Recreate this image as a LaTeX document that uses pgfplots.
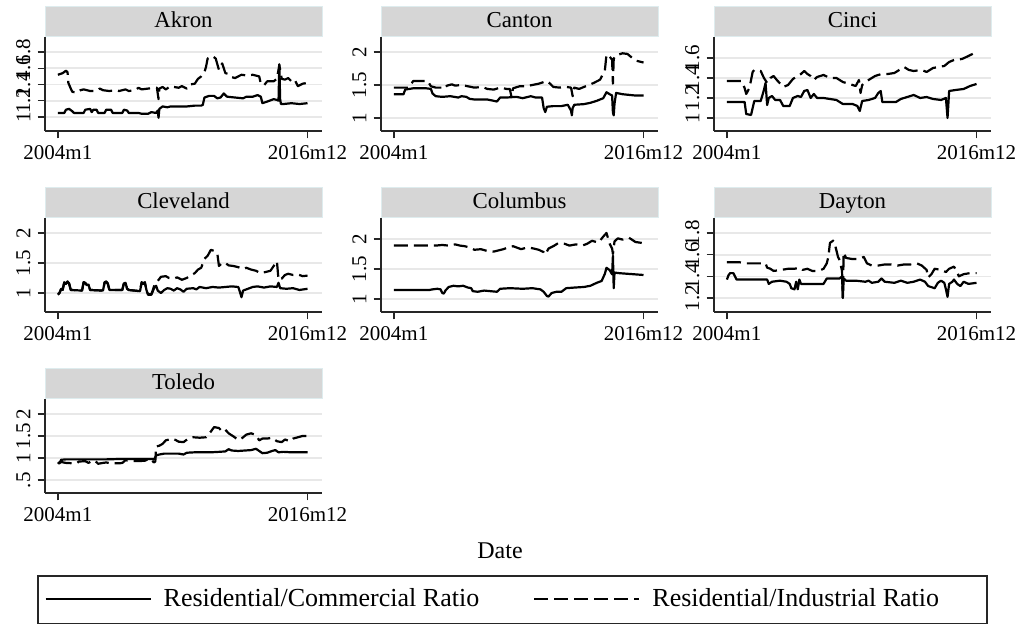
\documentclass[border=0pt]{standalone}
\usepackage{fontspec}
\setmainfont{Liberation Serif}
\usepackage{pgfplots}
\pgfplotsset{compat=1.18}
\definecolor{gridgray}{RGB}{232,232,232}
\definecolor{headgray}{RGB}{214,214,214}
\definecolor{headedge}{RGB}{222,236,238}
\newcommand{\ticksize}{\fontsize{10.5}{12}\selectfont}
\newcommand{\titlesize}{\fontsize{11.4}{13}\selectfont}
\pgfplotsset{
  panel/.style={
    scale only axis, width=138.5pt, height=47pt,
    xmin=-8, xmax=164,
    axis lines=left, axis line style={-, line width=0.7pt, color=black!85},
    xtick={0,155}, xticklabels={2004m1,2016m12},
    tick align=outside, major tick length=3.75pt,
    every tick/.style={line width=0.7pt, color=black!85},
    ymajorgrids, grid style={line width=0.8pt, color=gridgray},
    xticklabel style={font=\ticksize},
    yticklabel style={font=\ticksize, rotate=90, anchor=south},
    every axis title shift=0pt,
    title style={at={(axis description cs:0.5,1)}, anchor=south, fill=headgray, draw=headedge, line width=0.5pt, minimum width=138.5pt, minimum height=15pt, inner sep=0pt, text height=8pt, text depth=2.2pt, font=\titlesize},
    clip=false,
  },
  resline/.style={black, solid, mark=none, line width=1.1pt, line join=round},
  dashline/.style={black, mark=none, line width=1.1pt, line join=round, dash pattern=on 7pt off 3pt},
}
\begin{document}
\begin{tikzpicture}
\useasboundingbox (0,0) rectangle (510pt,312.5pt);
% Akron
\begin{axis}[panel, at={(22.5pt,247pt)}, title={Akron}, ymin=0.828, ymax=1.985,
  ytick={1,1.2,1.4,1.6,1.8}, yticklabels={1,1.2,1.4,1.6,1.8}]
\addplot[resline] coordinates {(0,1.05)(4,1.05)(5,1.09)(7,1.10)(9,1.07)(10,1.05)(16,1.05)(17,1.09)(20,1.10)(21,1.06)(22,1.09)(24,1.09)(25,1.05)(29,1.05)(30,1.09)(33,1.09)(34,1.05)(40,1.05)(41,1.09)(43,1.08)(44,1.05)(50,1.05)(52,1.04)(56,1.04)(58,1.06)(61,1.05)(62,1.08)(62.5,0.99)(63,1.10)(65,1.13)(68,1.12)(70,1.13)(80,1.13)(85,1.14)(89,1.14)(90,1.15)(91,1.24)(94,1.26)(97,1.26)(99,1.23)(101,1.24)(103,1.29)(105,1.25)(110,1.24)(115,1.23)(117,1.25)(121,1.25)(124,1.27)(126,1.25)(127,1.17)(130,1.19)(134,1.22)(136,1.21)(137,1.2)(137.5,1.65)(138,1.22)(138.5,1.16)(140,1.16)(145,1.17)(150,1.16)(155,1.17)};
\addplot[dashline] coordinates {(0,1.52)(3,1.54)(5,1.57)(6,1.55)(6.5,1.42)(8,1.35)(9,1.31)(12,1.30)(14,1.33)(16,1.34)(20,1.32)(24,1.32)(26,1.35)(28,1.33)(32,1.32)(36,1.33)(38,1.32)(42,1.34)(44,1.32)(48,1.33)(50,1.36)(52,1.34)(56,1.35)(60,1.36)(61.5,1.36)(62.5,1.22)(63,1.35)(65,1.37)(67,1.34)(70,1.38)(72,1.37)(75,1.36)(77,1.38)(80,1.35)(82,1.40)(85,1.41)(87,1.47)(89,1.50)(91,1.55)(92,1.62)(93,1.72)(96,1.75)(98,1.72)(100,1.58)(102,1.66)(104,1.54)(106,1.53)(108,1.49)(110,1.48)(114,1.52)(118,1.51)(121,1.52)(125,1.50)(126,1.41)(128,1.39)(130,1.44)(134,1.44)(136,1.47)(137.5,1.64)(139,1.47)(141,1.46)(143,1.48)(145,1.44)(147,1.46)(149,1.38)(152,1.41)(155,1.42)};
\end{axis}
% Canton
\begin{axis}[panel, at={(190.5pt,247pt)}, title={Canton}, ymin=0.803, ymax=2.227,
  ytick={1,1.5,2}, yticklabels={1,1.5,2}]
\addplot[resline] coordinates {(0,1.36)(6,1.36)(7,1.43)(12,1.45)(20,1.45)(23,1.44)(24,1.37)(26,1.33)(30,1.32)(35,1.33)(40,1.31)(42,1.33)(45,1.32)(47,1.29)(50,1.28)(58,1.28)(62,1.26)(64,1.25)(66,1.31)(70,1.31)(76,1.32)(80,1.30)(85,1.33)(88,1.31)(92,1.31)(93,1.15)(94,1.09)(95,1.17)(99,1.18)(104,1.18)(108,1.20)(110,1.11)(110.5,1.04)(111,1.15)(112,1.20)(118,1.21)(122,1.23)(126,1.26)(130,1.30)(132,1.39)(134,1.36)(135.5,1.34)(136,1.08)(136.5,1.04)(137,1.22)(138,1.38)(142,1.36)(146,1.35)(150,1.34)(155,1.34)};
\addplot[dashline] coordinates {(0,1.46)(9,1.46)(10,1.49)(12,1.56)(21,1.56)(23,1.48)(26,1.46)(30,1.46)(31,1.44)(33,1.49)(36,1.51)(38,1.49)(42,1.50)(46,1.48)(50,1.46)(55,1.47)(58,1.44)(62,1.43)(66,1.46)(70,1.44)(72,1.44)(73,1.32)(74,1.45)(78,1.48)(82,1.48)(86,1.50)(90,1.52)(95,1.56)(97,1.52)(99,1.47)(103,1.46)(107,1.47)(110,1.46)(111,1.33)(112,1.46)(115,1.44)(119,1.48)(124,1.53)(128,1.58)(131,1.72)(132,1.96)(134,1.93)(135.5,1.88)(136,1.52)(136.5,1.90)(138,1.95)(142,1.98)(145,1.97)(148,1.91)(150,1.87)(155,1.84)};
\end{axis}
% Cinci
\begin{axis}[panel, at={(357pt,247pt)}, title={Cinci}, ymin=0.87, ymax=1.81,
  ytick={1,1.2,1.4,1.6}, yticklabels={1,1.2,1.4,1.6}]
\addplot[resline] coordinates {(0,1.16)(11,1.16)(12,1.04)(15,1.03)(16,1.10)(17,1.17)(21,1.17)(23,1.28)(24,1.35)(25,1.13)(26,1.20)(28,1.22)(30,1.18)(33,1.18)(35,1.12)(39,1.12)(41,1.20)(44,1.22)(46,1.21)(48,1.27)(50,1.28)(52,1.20)(54,1.24)(56,1.20)(60,1.20)(64,1.19)(68,1.18)(72,1.14)(78,1.14)(81,1.12)(82.5,1.07)(84,1.17)(88,1.18)(92,1.20)(94,1.25)(95.5,1.27)(96.5,1.16)(100,1.16)(105,1.16)(108,1.19)(112,1.21)(116,1.23)(120,1.20)(124,1.21)(128,1.19)(133,1.18)(136,1.20)(137,1.0)(138,1.27)(142,1.28)(147,1.29)(151,1.32)(155,1.34)};
\addplot[dashline] coordinates {(0,1.37)(9,1.37)(11,1.30)(12,1.24)(14,1.30)(16,1.46)(17,1.48)(21,1.47)(23,1.40)(25,1.35)(27,1.40)(29,1.42)(31,1.38)(35,1.31)(38,1.33)(41,1.39)(43,1.41)(46,1.44)(48,1.47)(50,1.44)(52,1.42)(54,1.38)(56,1.41)(60,1.43)(64,1.40)(68,1.40)(72,1.36)(76,1.34)(80,1.32)(82,1.38)(83,1.25)(84,1.33)(88,1.38)(92,1.42)(96,1.44)(100,1.44)(104,1.45)(110,1.51)(113,1.48)(116,1.47)(121,1.48)(124,1.46)(128,1.50)(135,1.52)(138,1.56)(141,1.58)(146,1.59)(150,1.62)(155,1.66)};
\end{axis}
% Cleveland
\begin{axis}[panel, at={(22.5pt,156.5pt)}, title={Cleveland}, ymin=0.683, ymax=2.25,
  ytick={1,1.5,2}, yticklabels={1,1.5,2}]
\addplot[resline] coordinates {(0,0.97)(1,1.0)(2,1.06)(3,1.05)(4,1.18)(5,1.15)(6,1.19)(7,1.15)(8,1.05)(15,1.04)(16,1.18)(17,1.16)(18,1.13)(19,1.14)(20,1.05)(28,1.04)(29,1.17)(30,1.19)(31,1.15)(32,1.05)(40,1.05)(41,1.16)(42,1.17)(43,1.07)(44,1.05)(51,1.03)(52,1.17)(53,1.15)(54,1.17)(55,1.05)(56,0.97)(58,0.97)(59,1.03)(60,1.10)(61,1.12)(62,1.04)(64,1.00)(66,1.05)(68,1.08)(70,1.07)(72,1.04)(74,1.08)(76,1.06)(78,1.02)(80,1.07)(84,1.08)(86,1.06)(88,1.10)(92,1.08)(96,1.10)(100,1.09)(104,1.10)(108,1.11)(112,1.10)(113,1.02)(114,0.93)(115,1.04)(118,1.07)(121,1.10)(124,1.11)(128,1.09)(132,1.11)(136,1.10)(137,1.17)(138,1.08)(142,1.07)(146,1.08)(150,1.05)(155,1.07)};
\addplot[dashline] coordinates {(0,0.98)(1,1.0)(2,1.07)(3,1.06)(4,1.19)(5,1.16)(6,1.19)(7,1.16)(8,1.05)(15,1.04)(16,1.18)(17,1.17)(18,1.14)(19,1.15)(20,1.05)(28,1.04)(29,1.18)(30,1.19)(31,1.16)(32,1.05)(40,1.05)(41,1.17)(42,1.17)(43,1.07)(44,1.05)(51,1.03)(52,1.18)(53,1.16)(54,1.18)(55,1.05)(56,0.98)(58,0.98)(59,1.05)(60,1.14)(62,1.20)(64,1.27)(67,1.28)(69,1.25)(72,1.24)(74,1.26)(77,1.22)(80,1.25)(83,1.30)(85,1.33)(87,1.39)(89,1.42)(91,1.57)(93,1.62)(95,1.72)(97,1.70)(99,1.66)(100,1.45)(102,1.50)(104,1.50)(106,1.46)(109,1.45)(112,1.43)(115,1.40)(117,1.42)(120,1.39)(123,1.37)(126,1.33)(129,1.35)(132,1.37)(134,1.45)(136,1.53)(137,1.22)(139,1.24)(141,1.30)(143,1.32)(146,1.30)(149,1.31)(152,1.28)(155,1.29)};
\end{axis}
% Columbus
\begin{axis}[panel, at={(190.5pt,156.5pt)}, title={Columbus}, ymin=0.783, ymax=2.35,
  ytick={1,1.5,2}, yticklabels={1,1.5,2}]
\addplot[resline] coordinates {(0,1.15)(22,1.15)(24,1.16)(27,1.17)(29,1.16)(30,1.10)(31,1.09)(32,1.14)(34,1.20)(37,1.22)(40,1.21)(43,1.22)(46,1.19)(48,1.18)(49,1.13)(52,1.12)(56,1.14)(60,1.13)(64,1.12)(66,1.17)(72,1.18)(80,1.17)(86,1.18)(91,1.16)(93,1.12)(95,1.05)(96,1.04)(98,1.10)(101,1.12)(104,1.12)(107,1.18)(112,1.19)(118,1.20)(122,1.22)(126,1.27)(129,1.30)(131,1.42)(132,1.52)(134,1.48)(135.5,1.41)(136,1.72)(136.5,1.18)(137,1.44)(140,1.43)(145,1.42)(150,1.41)(155,1.40)};
\addplot[dashline] coordinates {(0,1.89)(20,1.89)(26,1.89)(30,1.90)(34,1.89)(38,1.91)(41,1.89)(44,1.88)(48,1.85)(50,1.82)(54,1.83)(58,1.80)(62,1.79)(65,1.81)(68,1.83)(71,1.86)(74,1.88)(77,1.85)(79,1.83)(83,1.86)(87,1.84)(90,1.82)(93,1.78)(94,1.74)(96,1.84)(99,1.88)(102,1.93)(106,1.92)(109,1.89)(113,1.91)(117,1.89)(120,1.92)(123,1.97)(127,1.94)(130,2.04)(132,2.10)(134,1.92)(135.5,1.84)(136,1.75)(137,1.96)(139,2.01)(142,1.99)(146,2.02)(150,1.95)(155,1.93)};
\end{axis}
% Dayton
\begin{axis}[panel, at={(357pt,156.5pt)}, title={Dayton}, ymin=1.07, ymax=1.94,
  ytick={1.2,1.4,1.6,1.8}, yticklabels={1.2,1.4,1.6,1.8}]
\addplot[resline] coordinates {(0,1.37)(1,1.41)(2,1.43)(4,1.43)(5,1.40)(6,1.37)(25,1.37)(26,1.33)(28,1.35)(33,1.36)(37,1.35)(39,1.33)(40,1.29)(42,1.28)(43,1.35)(44,1.28)(45,1.37)(46,1.33)(50,1.33)(55,1.33)(60,1.33)(62,1.38)(70,1.38)(71.5,1.40)(72,1.20)(72.5,1.38)(74,1.36)(80,1.36)(86,1.35)(88,1.36)(90,1.34)(94,1.35)(96,1.38)(98,1.35)(104,1.34)(108,1.36)(112,1.34)(116,1.35)(120,1.37)(123,1.35)(125,1.31)(127,1.30)(129,1.29)(131,1.34)(133,1.36)(135,1.34)(136,1.28)(137,1.21)(138,1.33)(140,1.35)(141,1.37)(143,1.33)(145,1.31)(147,1.35)(150,1.33)(155,1.34)};
\addplot[dashline] coordinates {(0,1.53)(8,1.53)(12,1.52)(20,1.52)(24,1.52)(25,1.48)(27,1.47)(29,1.45)(34,1.46)(38,1.47)(42,1.47)(45,1.48)(47,1.46)(50,1.47)(53,1.45)(57,1.45)(60,1.47)(62,1.52)(63,1.58)(64,1.71)(66,1.73)(67,1.70)(68,1.64)(69,1.58)(70,1.55)(71.5,1.45)(72,1.20)(72.5,1.62)(74,1.57)(78,1.56)(82,1.56)(85,1.58)(87,1.52)(90,1.50)(94,1.50)(98,1.51)(102,1.51)(106,1.50)(110,1.51)(114,1.51)(118,1.52)(121,1.50)(124,1.46)(125,1.39)(127,1.42)(129,1.47)(133,1.46)(136,1.44)(138,1.47)(141,1.49)(143,1.44)(144,1.40)(147,1.42)(151,1.43)(155,1.43)};
\end{axis}
% Toledo
\begin{axis}[panel, at={(22.5pt,66pt)}, title={Toledo}, ymin=0.209, ymax=2.336,
  ytick={0.5,1,1.5,2}, yticklabels={.5,1,1.5,2},
  legend columns=2,
  legend style={draw=none, fill=none, at={(axis description cs:-0.025,-1.126)}, anchor=west,
    font=\fontsize{13}{15}\selectfont,
    /tikz/every odd column/.style={column sep=4pt},
    /tikz/every even column/.style={column sep=25pt}},
  legend image code/.code={\draw[#1] (0pt,0pt) -- (52.5pt,0pt);}]
\addplot[resline] coordinates {(0,0.90)(1,0.88)(2,0.96)(5,0.97)(10,0.97)(20,0.97)(30,0.97)(40,0.98)(50,0.98)(55,0.98)(60,0.98)(61,1.06)(63,1.08)(66,1.10)(70,1.10)(75,1.10)(78,1.08)(80,1.12)(85,1.13)(90,1.13)(95,1.13)(100,1.14)(104,1.15)(106,1.20)(108,1.17)(112,1.16)(116,1.17)(120,1.18)(123,1.21)(125,1.16)(127,1.11)(130,1.12)(133,1.16)(135,1.18)(137,1.13)(140,1.14)(145,1.13)(150,1.13)(155,1.13)};
\addlegendentry{Residential/Commercial Ratio}
\addplot[dashline] coordinates {(0,0.88)(2,0.91)(5,0.89)(10,0.88)(12,0.89)(13,0.92)(17,0.93)(19,0.89)(21,0.93)(23,0.94)(25,0.87)(28,0.89)(30,0.90)(33,0.88)(38,0.88)(40,0.89)(42,0.95)(46,0.93)(50,0.93)(54,0.94)(56,0.97)(58,0.98)(59.5,0.90)(60.5,0.92)(61,1.26)(63,1.28)(65,1.32)(67,1.40)(71,1.44)(73,1.41)(75,1.37)(78,1.36)(81,1.44)(84,1.47)(88,1.46)(92,1.47)(95,1.60)(97,1.70)(100,1.68)(102,1.60)(104,1.64)(106,1.56)(109,1.49)(112,1.41)(114,1.44)(117,1.53)(120,1.56)(123,1.52)(125,1.40)(127,1.44)(130,1.44)(133,1.46)(136,1.38)(139,1.36)(141,1.42)(144,1.38)(146,1.44)(149,1.47)(152,1.50)(155,1.50)};
\addlegendentry{Residential/Industrial Ratio}
\end{axis}
\node[font=\fontsize{12}{14}\selectfont] at (250pt,37pt) {Date};
\draw[line width=0.7pt, black!85] (19pt,0.6pt) rectangle (493.5pt,24.5pt);
\end{tikzpicture}
\end{document}
